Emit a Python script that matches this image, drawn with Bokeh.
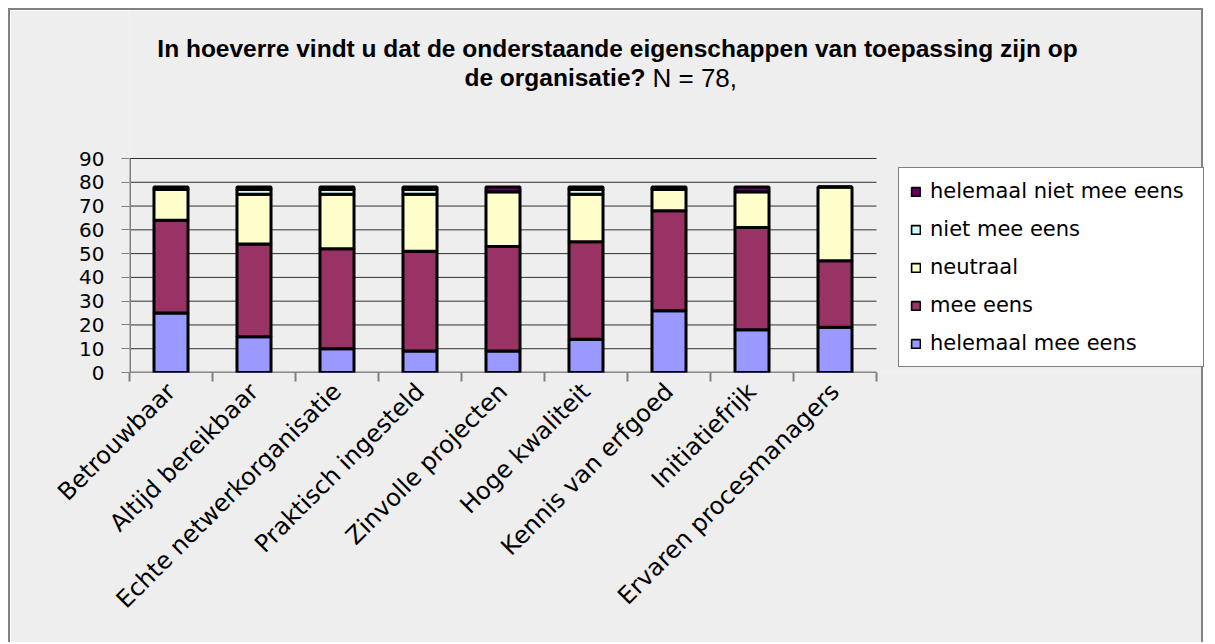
from bokeh.plotting import figure
from bokeh.models import (Range1d, FixedTicker, Legend, LegendItem, Label,
                          ColumnDataSource)
from bokeh.embed import file_html
from bokeh.resources import INLINE
import math

categories = ["Betrouwbaar", "Altijd bereikbaar", "Echte netwerkorganisatie",
              "Praktisch ingesteld", "Zinvolle projecten", "Hoge kwaliteit",
              "Kennis van erfgoed", "Initiatiefrijk", "Ervaren procesmanagers"]
helemaal_mee_eens = [25, 15, 10, 9, 9, 14, 26, 18, 19]
mee_eens = [39, 39, 42, 42, 44, 41, 42, 43, 28]
neutraal = [13, 21, 23, 24, 23, 20, 9, 15, 31]
niet_mee_eens = [0, 2, 2, 2, 0, 2, 0, 0, 0]
helemaal_niet_mee_eens = [1, 1, 1, 1, 2, 1, 1, 2, 0]
series_names = ["helemaal mee eens", "mee eens", "neutraal", "niet mee eens",
                "helemaal niet mee eens"]
series_colors = ["#9999FF", "#993366", "#FFFFCC", "#CCFFFF", "#660066"]
y_ticks = [0, 10, 20, 30, 40, 50, 60, 70, 80, 90]

title_line1 = "In hoeverre vindt u dat de onderstaande eigenschappen van toepassing zijn op"
title_line2_bold = "de organisatie?"
title_line2_normal = "N = 78,"

# ---- layout constants (pixels) ----
W, H = 1195, 634                 # canvas (page offset 10,10 by css margin+border)
FL, FB = 119, 362                # frame left, frame bottom in canvas px
PX_X = 83.0                      # px per category
PX_Y = (372 - 158) / 90.0        # px per unit
YMAX_AX = 90
n = len(categories)

keys = ["s0", "s1", "s2", "s3", "s4"]
xs = [i + 0.5 for i in range(n)]
src = ColumnDataSource(dict(x=xs, s0=helemaal_mee_eens, s1=mee_eens, s2=neutraal,
                            s3=niet_mee_eens, s4=helemaal_niet_mee_eens))

p = figure(width=W, height=H, output_backend="svg", toolbar_location=None,
           x_range=Range1d(0, (W - FL) / PX_X), y_range=Range1d(0, FB / PX_Y),
           min_border_left=FL, min_border_right=0, min_border_top=0,
           min_border_bottom=H - FB)
p.background_fill_color = "#EEEEEE"
p.border_fill_color = "#EEEEEE"
p.outline_line_color = None
p.styles = {"margin": "8px 8px 0px 8px",
            "border-left": "2px solid #808080",
            "border-top": "2px solid #808080",
            "border-right": "2px solid #808080"}

# grid lines and axis lines (limited to the data area)
p.segment(x0=[0] * len(y_ticks), y0=y_ticks, x1=[n] * len(y_ticks), y1=y_ticks,
          line_color="#303030", line_width=1)
p.segment(x0=[0], y0=[0], x1=[0], y1=[YMAX_AX], line_color="#808080", line_width=3)
p.segment(x0=[0], y0=[0], x1=[n], y1=[0], line_color="#808080", line_width=2)

# thin-outlined copy underneath (used for the legend swatches), hidden by the real bars
legend_rs = p.vbar_stack(keys, x="x", width=0.41, source=src, color=series_colors,
                         line_color="black", line_width=1.6)
rs = p.vbar_stack(keys, x="x", width=0.41, source=src, color=series_colors,
                  line_color="black", line_width=3)

# axes
p.yaxis.ticker = FixedTicker(ticks=y_ticks)
p.yaxis.axis_line_color = None
p.yaxis.major_tick_line_color = "#808080"
p.yaxis.major_tick_line_width = 1
p.yaxis.major_tick_out = 8
p.yaxis.major_tick_in = 0
p.yaxis.minor_tick_line_color = None
p.yaxis.major_label_text_font = "DejaVu Sans"
p.yaxis.major_label_text_font_size = "20px"
p.yaxis.major_label_text_color = "black"
p.yaxis.major_label_standoff = 17

p.xaxis.ticker = FixedTicker(ticks=xs, minor_ticks=list(range(n + 1)))
p.xaxis.major_label_overrides = {x: c for x, c in zip(xs, categories)}
p.xaxis.major_label_orientation = math.pi / 4
p.xaxis.axis_line_color = None
p.xaxis.major_tick_line_color = None
p.xaxis.major_tick_out = 0
p.xaxis.major_tick_in = 0
p.xaxis.minor_tick_line_color = "#808080"
p.xaxis.minor_tick_line_width = 2
p.xaxis.minor_tick_out = 9
p.xaxis.minor_tick_in = 0
p.xaxis.major_label_text_font = "DejaVu Sans"
p.xaxis.major_label_text_font_size = "24px"
p.xaxis.major_label_text_color = "black"
p.xaxis.major_label_standoff = 6

p.xgrid.grid_line_color = None
p.ygrid.grid_line_color = None

# legend
items = [LegendItem(label=nm, renderers=[r]) for nm, r in zip(series_names, legend_rs)][::-1]
legend = Legend(items=items, location=(898 - 129, 372 - 367), orientation="vertical",
                label_text_font="DejaVu Sans", label_text_font_size="21px",
                label_text_color="black",
                glyph_width=11, glyph_height=11, label_standoff=9,
                label_height=24, label_width=262, spacing=14, padding=11,
                margin=0, background_fill_color="white", background_fill_alpha=1,
                border_line_color="black", border_line_width=1)
p.add_layout(legend, "center")

# title (positioned in data units inside the frame)
def xd(px_page):
    return (px_page - 129) / PX_X

def yd(py_page):
    return (372 - py_page) / PX_Y

p.add_layout(Label(x=xd(617), y=yd(48), text=title_line1, text_align="center",
                   text_baseline="alphabetic", text_font="Liberation Sans",
                   text_font_style="bold", text_font_size="24.5px",
                   text_color="black"))
p.add_layout(Label(x=xd(645), y=yd(77), text=title_line2_bold, text_align="right",
                   text_baseline="alphabetic", text_font="Liberation Sans",
                   text_font_style="bold", text_font_size="24.5px",
                   text_color="black"))
p.add_layout(Label(x=xd(652), y=yd(77), text=title_line2_normal, text_align="left",
                   text_baseline="alphabetic", text_font="Liberation Sans",
                   text_font_size="26px", text_color="black"))

open("out.html", "w").write(file_html(p, INLINE))
